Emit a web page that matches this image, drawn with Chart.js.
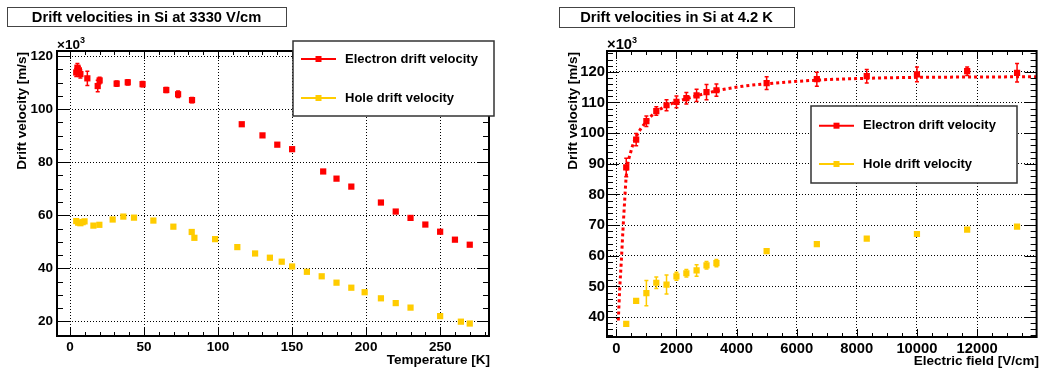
<!DOCTYPE html>
<html>
<head>
<meta charset="utf-8">
<script src="https://cdn.jsdelivr.net/npm/chart.js@4.4.0/dist/chart.umd.min.js"></script>
<style>
  html, body { margin: 0; padding: 0; background: #fff; }
  #wrap { position: relative; width: 1041px; height: 371px; }
  canvas { position: absolute; top: 0; }
  #left { left: 0; }
  #right { left: 520px; }
</style>
</head>
<body>
<div id="wrap">
  <canvas id="left" width="520" height="371"></canvas>
  <canvas id="right" width="521" height="371"></canvas>
</div>
<script>
// ---- data: drift velocity vs temperature (3330 V/cm), units of 10^3 m/s
const tempElectron = [4.2, 5, 6, 7, 11.7, 18.7, 20, 31.5, 39, 49, 65, 73, 82.4, 116, 130, 140, 150, 171, 180, 190, 210, 220, 230, 240, 250, 260, 270];
const velElectronT = [113.8, 115.6, 114.6, 113.2, 111.6, 108.7, 110.8, 109.6, 110.1, 109.4, 107.2, 105.6, 103.4, 94.3, 90.1, 86.6, 84.9, 76.5, 73.8, 70.8, 64.8, 61.4, 59.0, 56.5, 53.8, 50.8, 48.9];
const errElectronT = [1.5, 1.6, 1.5, 1.5, 2.7, 2.2, 1.2, 1.0, 1.0, 1.0, 0.9, 1.2, 1.0, 0, 0, 0, 0, 0, 0, 0, 0, 0, 0, 0, 0, 0, 0];
const tempHole = [4.2, 5.5, 7, 8.5, 9.8, 15.8, 19.8, 28.8, 36, 43.2, 56.3, 69.8, 82.2, 84, 98, 113, 125, 135, 143, 150, 160, 170, 180, 190, 199, 210, 220, 230, 250, 264, 270];
const velHoleT = [57.8, 57.2, 57.0, 57.4, 57.7, 56.1, 56.4, 58.4, 59.5, 59.1, 58.0, 55.7, 53.7, 51.5, 51.0, 48.0, 45.6, 44.0, 42.5, 40.7, 38.7, 37.0, 34.6, 32.7, 31.0, 28.7, 26.9, 25.2, 22.0, 19.9, 19.2];
const tempTicks = [0, 50, 100, 150, 200, 250];
const velTicksT = [20, 40, 60, 80, 100, 120];

// ---- data: drift velocity vs electric field (4.2 K)
const fieldValues = [330, 660, 1000, 1330, 1670, 2000, 2330, 2670, 3000, 3330, 5000, 6670, 8330, 10000, 11670, 13330];
const velElectronE = [88.8, 97.9, 103.9, 107.2, 109.1, 110.2, 111.4, 112.3, 113.4, 114.0, 116.3, 117.6, 118.6, 119.2, 120.2, 119.7];
const errElectronE = [3.0, 2.0, 1.7, 1.4, 1.8, 1.9, 1.9, 2.0, 2.5, 2.0, 2.1, 2.3, 2.2, 2.4, 1.4, 3.0];
const velHoleE = [37.8, 45.3, 47.8, 51.2, 50.6, 53.3, 54.3, 55.2, 56.9, 57.6, 61.5, 63.8, 65.6, 67.1, 68.5, 69.5];
const errHoleE = [0, 0, 4.1, 1.9, 3.1, 1.3, 1.2, 1.9, 1.2, 1.2, 0, 0, 0, 0, 0, 0];
// fitted curve through electron points
const fitField = [66, 110, 165, 220, 285, 330, 495, 660, 990, 1320, 1650, 2000, 2640, 3330, 4200, 5000, 6670, 8330, 10000, 11670, 13980];
const fitVel = [38.9, 48.7, 58.0, 68.3, 79.2, 86.0, 94.4, 98.8, 103.7, 106.9, 108.8, 110.2, 112.1, 113.8, 115.3, 116.1, 117.3, 117.9, 118.2, 118.3, 118.4];
const fieldTicks = [0, 2000, 4000, 6000, 8000, 10000, 12000];
const velTicksE = [40, 50, 60, 70, 80, 90, 100, 110, 120];

const RED = "#ff0000";
const GOLD = "#ffcc00";
const FONT = '"Liberation Sans", Arial, Helvetica, sans-serif';

const pts = (xs, ys) => xs.map((x, i) => ({ x, y: ys[i] }));

function makeDecor(cfg) {
  return {
    id: "decor",
    beforeDraw(chart) {
      const ctx = chart.ctx;
      ctx.save();
      ctx.fillStyle = "#fff";
      ctx.fillRect(0, 0, chart.width, chart.height);
      ctx.restore();
    },
    beforeDatasetsDraw(chart) {
      // error bars under the markers
      const ctx = chart.ctx, xs = chart.scales.x, ys = chart.scales.y;
      chart.data.datasets.forEach(ds => {
        if (!ds.errors) return;
        ctx.save();
        ctx.strokeStyle = ds.borderColor;
        ctx.lineWidth = 1.5;
        ds.data.forEach((p, i) => {
          const e = ds.errors[i];
          if (!e) return;
          const px = xs.getPixelForValue(p.x);
          const y0 = ys.getPixelForValue(p.y - e), y1 = ys.getPixelForValue(p.y + e);
          ctx.beginPath();
          ctx.moveTo(px, y0); ctx.lineTo(px, y1);
          ctx.moveTo(px - 2, y0); ctx.lineTo(px + 2, y0);
          ctx.moveTo(px - 2, y1); ctx.lineTo(px + 2, y1);
          ctx.stroke();
        });
        ctx.restore();
      });
    },
    afterDraw(chart) {
      const ctx = chart.ctx, a = chart.chartArea;
      const xs = chart.scales.x, ys = chart.scales.y;
      ctx.save();

      // ticks on all four sides, pointing inward
      ctx.strokeStyle = "#000";
      ctx.lineWidth = 1;
      ctx.beginPath();
      const tickRun = (scale, minor, major, fn) => {
        const n0 = Math.ceil(scale.min / minor), n1 = Math.floor(scale.max / minor);
        const per = Math.round(major / minor);
        for (let n = n0; n <= n1; n++) {
          const p = Math.round(scale.getPixelForValue(n * minor)) + 0.5;
          fn(p, n % per === 0);
        }
      };
      tickRun(xs, cfg.xMinor, cfg.xMajor, (p, big) => {
        const L = big ? 8 : 4;
        ctx.moveTo(p, a.bottom); ctx.lineTo(p, a.bottom - L);
        ctx.moveTo(p, a.top); ctx.lineTo(p, a.top + L);
      });
      tickRun(ys, cfg.yMinor, cfg.yMajor, (p, big) => {
        const L = big ? 12 : 6;
        ctx.moveTo(a.left, p); ctx.lineTo(a.left + L, p);
        ctx.moveTo(a.right, p); ctx.lineTo(a.right - L, p);
      });
      ctx.stroke();

      // frame
      ctx.lineWidth = 2;
      ctx.strokeRect(a.left, a.top, a.right - a.left, a.bottom - a.top);

      // x10^3 multiplier
      ctx.fillStyle = "#000";
      ctx.textBaseline = "alphabetic";
      ctx.textAlign = "left";
      ctx.font = "bold " + cfg.tickSize + "px " + FONT;
      ctx.fillText("\u00d710", a.left, 49);
      const w = ctx.measureText("\u00d710").width;
      ctx.font = "bold 9px " + FONT;
      ctx.fillText("3", a.left + w, 43);

      // axis titles
      ctx.font = "bold 13.5px " + FONT;
      ctx.textAlign = "right";
      ctx.textBaseline = "middle";
      ctx.fillText(cfg.xTitle, cfg.xTitlePos[0], cfg.xTitlePos[1]);
      ctx.save();
      ctx.translate(cfg.yTitlePos[0], cfg.yTitlePos[1]);
      ctx.rotate(-Math.PI / 2);
      ctx.fillText(cfg.yTitle, 0, 0);
      ctx.restore();

      // title box
      const t = cfg.titleBox;
      ctx.fillStyle = "#fff";
      ctx.fillRect(t[0], t[1], t[2] - t[0], t[3] - t[1]);
      ctx.strokeStyle = "#444";
      ctx.lineWidth = 1;
      ctx.strokeRect(t[0] + 0.5, t[1] + 0.5, t[2] - t[0], t[3] - t[1]);
      ctx.fillStyle = "#000";
      ctx.font = "bold 14.7px " + FONT;
      ctx.textAlign = "center";
      ctx.fillText(cfg.title, (t[0] + t[2]) / 2, (t[1] + t[3]) / 2 + 1);

      // legend
      const lg = cfg.legendBox;
      ctx.fillStyle = "#fff";
      ctx.fillRect(lg[0], lg[1], lg[2] - lg[0], lg[3] - lg[1]);
      ctx.strokeStyle = "#333";
      ctx.lineWidth = 1.5;
      ctx.strokeRect(lg[0], lg[1], lg[2] - lg[0], lg[3] - lg[1]);
      const items = [["Electron drift velocity", RED], ["Hole drift velocity", GOLD]];
      items.forEach(([label, col], i) => {
        const y = cfg.legendRows[i];
        const x0 = lg[0] + 8, x1 = x0 + 35, xm = (x0 + x1) / 2;
        ctx.strokeStyle = col;
        ctx.lineWidth = 2;
        ctx.beginPath(); ctx.moveTo(x0, y); ctx.lineTo(x1, y); ctx.stroke();
        ctx.fillStyle = col;
        ctx.fillRect(xm - 3, y - 3, 6, 6);
        ctx.fillStyle = "#000";
        ctx.font = "bold 13px " + FONT;
        ctx.textAlign = "left";
        ctx.textBaseline = "middle";
        ctx.fillText(label, x1 + 9, y);
      });

      ctx.restore();
    }
  };
}

function axisOpts(min, max, tickVals, size, pad, fixFn) {
  return {
    type: "linear",
    min, max,
    afterFit: fixFn,
    afterBuildTicks: s => { s.ticks = tickVals.map(v => ({ value: v })); },
    ticks: {
      autoSkip: false,
      maxRotation: 0,
      padding: pad,
      color: "#000",
      font: { family: FONT, weight: "bold", size },
      callback: v => String(v)
    },
    grid: { color: "#000", lineWidth: 1, drawTicks: false },
    border: { display: false, dash: [1, 2] }
  };
}

function baseOptions(padRight, yWidth, xHeight, xr, yr, tickSize, yPad) {
  return {
    responsive: false,
    animation: false,
    events: [],
    layout: { padding: { left: 0, top: 51, right: padRight, bottom: 0 } },
    plugins: { legend: { display: false }, tooltip: { enabled: false }, title: { display: false } },
    scales: {
      x: axisOpts(xr[0], xr[1], xr[2], tickSize, 3, s => { s.height = xHeight; }),
      y: axisOpts(yr[0], yr[1], yr[2], tickSize, yPad, s => { s.width = yWidth; })
    }
  };
}

// ---- left: vs temperature
new Chart(document.getElementById("left"), {
  type: "scatter",
  data: {
    datasets: [
      { data: pts(tempElectron, velElectronT), errors: errElectronT, backgroundColor: RED, borderColor: RED, pointStyle: "rect", pointRadius: 4.4, borderWidth: 0 },
      { data: pts(tempHole, velHoleT), backgroundColor: GOLD, borderColor: GOLD, pointStyle: "rect", pointRadius: 4.4, borderWidth: 0 }
    ]
  },
  options: baseOptions(31, 57, 35, [-8.8, 283, tempTicks], [14.5, 121.9, velTicksT], 13.5, 4),
  plugins: [makeDecor({
    xMinor: 10, xMajor: 50, yMinor: 5, yMajor: 20, tickSize: 13.5,
    xTitle: "Temperature [K]", xTitlePos: [490, 360],
    yTitle: "Drift velocity [m/s]", yTitlePos: [22, 52],
    title: "Drift velocities in Si at 3330 V/cm", titleBox: [7, 7, 286, 26],
    legendBox: [293, 41, 494, 116], legendRows: [59, 98]
  })]
});

// ---- right: vs electric field
new Chart(document.getElementById("right"), {
  type: "scatter",
  data: {
    datasets: [
      { data: pts(fieldValues, velElectronE), errors: errElectronE, backgroundColor: RED, borderColor: RED, pointStyle: "rect", pointRadius: 4.4, borderWidth: 0 },
      { data: pts(fieldValues, velHoleE), errors: errHoleE, backgroundColor: GOLD, borderColor: GOLD, pointStyle: "rect", pointRadius: 4.4, borderWidth: 0 },
      { data: pts(fitField, fitVel), showLine: true, pointRadius: 0, borderColor: RED, borderWidth: 3, borderDash: [3, 3], cubicInterpolationMode: "monotone", fill: false }
    ]
  },
  options: baseOptions(1, 87, 34, [-310, 13980, fieldTicks], [33.5, 126.8, velTicksE], 14.8, 2),
  plugins: [makeDecor({
    xMinor: 500, xMajor: 2000, yMinor: 2, yMajor: 10, tickSize: 14.8,
    xTitle: "Electric field [V/cm]", xTitlePos: [1039 - 520, 361],
    yTitle: "Drift velocity [m/s]", yTitlePos: [53, 52],
    title: "Drift velocities in Si at 4.2 K", titleBox: [39, 7, 274, 27],
    legendBox: [291, 106, 497, 183], legendRows: [125.7, 164]
  })]
});
</script>
</body>
</html>
